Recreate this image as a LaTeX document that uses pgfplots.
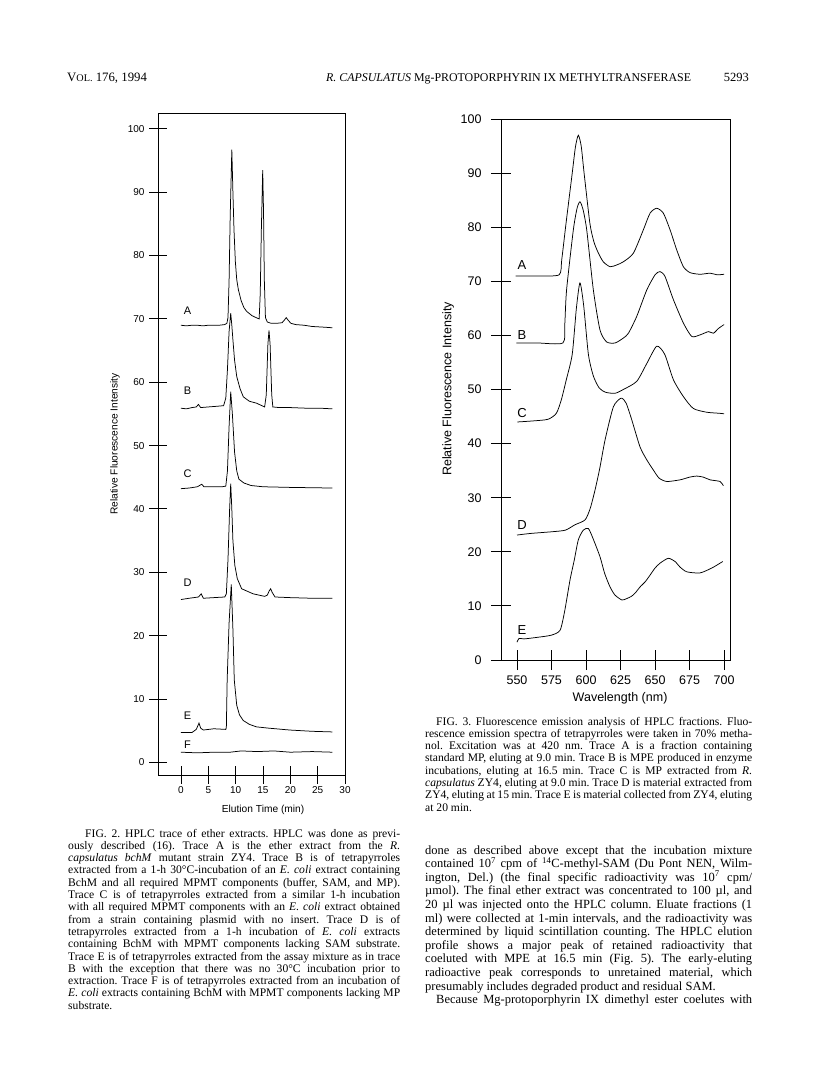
\documentclass[border=0pt]{standalone}
\usepackage{fontspec}
\setmainfont{Liberation Serif}
\setsansfont{Liberation Sans}
\usepackage{pgfplots}
\pgfplotsset{compat=1.18}
\frenchspacing

% page text set line by line as in the scan
\newdimen\linew
\newcommand{\jl}[1]{\hbox to \linew{#1}}
\newcommand{\el}[1]{\hbox to \linew{#1\hfil}}
\newcommand{\block}[3]{\vtop{\linew=#1\relax\hsize=#1\relax\baselineskip=#2\relax\lineskiplimit=-50pt\relax\parindent=0pt #3}}

\pgfplotsset{
  scan/.style={
    scale only axis,
    tick pos=left,
    tick align=center,
    axis line style={line width=0.9pt},
    tick style={line width=0.9pt, black},
    /pgf/number format/assume math mode=true,
  },
  trace/.style={black, line width=0.75pt, mark=none},
}

\begin{document}
\begin{tikzpicture}
\fill[white] (0pt,0pt) rectangle (816pt,-1084pt);

% running head
\node[anchor=base west, inner sep=0] at (67pt,-81pt) {\fontsize{12.8}{15}\selectfont V{\fontsize{10.2}{12}\selectfont OL.} 176, 1994};
\node[anchor=base west, inner sep=0] at (326pt,-81pt) {\fontsize{11.9}{14}\selectfont \textit{R. CAPSULATUS} Mg-PROTOPORPHYRIN IX METHYLTRANSFERASE};
\node[anchor=base east, inner sep=0] at (749pt,-81pt) {\fontsize{12.5}{15}\selectfont 5293};

% ---------------- FIG. 2 ----------------
\begin{axis}[scan,
  at={(158pt,-775pt)}, anchor=south west,
  width=187pt, height=662pt,
  xmin=-4.2, xmax=30, ymin=-2, ymax=102.5,
  xtick={0,5,...,30}, ytick={0,10,...,100},
  major tick length=18pt,
  ticklabel style={font=\fontsize{10}{12}\selectfont\sffamily},
  yticklabel style={xshift=-1pt},
  xticklabel style={yshift=1pt},
  label style={font=\fontsize{10.2}{12}\selectfont\sffamily},
  xlabel={Elution Time (min)},
  ylabel={Relative Fluorescence Intensity},
  xlabel style={at={(axis description cs:0.562,-0.052)}, anchor=center},
  ylabel style={at={(axis description cs:-0.23,0.5)}, anchor=center},
]
% A
\addplot[trace] coordinates {(0,69.0) (1,68.9) (2,69.0) (3,69.0) (4,68.9) (5,69.0) (6,69.0) (7,69.0) (8,69.1) (8.4,69.3) (8.6,70.2) (8.8,76) (9.0,86) (9.3,96.7) (9.5,90) (9.7,84) (9.95,79) (10.2,76.2) (10.5,74.6) (11,72.9) (11.5,71.8) (12,71.2) (13,70.5) (14,70.1) (14.3,70.0) (14.5,74) (14.7,84) (14.95,93.5) (15.1,87) (15.25,76) (15.45,70.2) (15.8,69.5) (16.5,69.3) (17.5,69.3) (18.5,69.4) (18.9,69.8) (19.25,70.2) (19.6,69.8) (20.1,69.3) (21,69.1) (22.5,69.0) (24,68.8) (26,68.7) (27.7,68.6)};
% B
\addplot[trace] coordinates {(0,55.9) (1,55.8) (2,56.0) (2.8,56.1) (3.2,56.5) (3.6,56.0) (5,56.1) (6.5,56.2) (7.8,56.3) (8.2,57.5) (8.5,62) (8.8,68) (9.1,70.9) (9.3,69) (9.5,66.7) (9.8,63.5) (10.2,60.9) (10.8,59) (11.4,57.7) (12.5,57.0) (13.8,56.7) (15.3,56.1) (15.6,58) (15.9,66) (16.1,68.2) (16.3,66) (16.6,58) (16.8,56.1) (18,56.0) (20,56.0) (23,55.9) (25.5,55.9) (27.7,55.8)};
% C
\addplot[trace] coordinates {(0,43.2) (1.5,43.3) (3.0,43.5) (3.8,43.9) (4.2,43.5) (6,43.5) (7.5,43.5) (8.2,43.6) (8.5,46) (8.8,53) (9.1,58.5) (9.4,55) (9.8,49) (10.2,46) (10.6,44.7) (11.5,44.1) (12.8,43.7) (15,43.5) (20,43.4) (27.7,43.3)};
% D
\addplot[trace] coordinates {(0,25.7) (1.5,25.9) (3.2,26.1) (3.7,26.6) (4.1,25.9) (6,26.0) (8,26.1) (8.3,26.6) (8.6,32) (8.9,40) (9.1,44.0) (9.3,40) (9.5,35) (9.85,31.1) (10.3,29) (11.1,27.4) (13.2,26.6) (15.3,26.2) (15.8,26.4) (16.1,27.0) (16.4,27.4) (16.7,26.8) (17.2,26.1) (20,26.0) (24,25.9) (27.7,25.9)};
% E
\addplot[trace] coordinates {(0,4.7) (2,4.7) (2.8,5.2) (3.3,6.2) (3.6,5.4) (4.1,5.1) (6,5.3) (8.2,5.2) (8.3,5.5) (8.45,13) (8.8,22) (9.2,28.1) (9.5,21) (9.75,13) (10.2,9) (10.7,7.5) (11.4,6.6) (12.5,6.0) (13.8,5.6) (16,5.4) (19.9,5.1) (24,4.9) (27.7,4.8)};
% F
\addplot[trace] coordinates {(0,1.6) (3,1.5) (6,1.6) (9,1.6) (11,1.8) (14,1.7) (17,1.8) (20,1.6) (24,1.7) (27.7,1.6)};
\begin{scope}[font=\fontsize{11}{13}\selectfont\sffamily]
\node at (axis cs:1.2,71.3) {A};
\node at (axis cs:1.2,58.6) {B};
\node at (axis cs:1.2,45.6) {C};
\node at (axis cs:1.2,28.3) {D};
\node at (axis cs:1.2,7.4) {E};
\node at (axis cs:1.2,2.8) {F};
\end{scope}
\end{axis}

% ---------------- FIG. 3 ----------------
\begin{axis}[scan,
  at={(501pt,-660pt)}, anchor=south west,
  width=229pt, height=541pt,
  xmin=538.4, xmax=704.3, ymin=0, ymax=100,
  xtick={550,575,...,700}, ytick={0,10,...,100},
  major tick length=20pt,
  ticklabel style={font=\fontsize{12.5}{14}\selectfont\sffamily},
  yticklabel style={xshift=-6pt},
  xticklabel style={yshift=-2pt},
  label style={font=\fontsize{12.5}{14}\selectfont\sffamily},
  xlabel={Wavelength (nm)},
  ylabel={Relative Fluorescence Intensity},
  xlabel style={at={(axis description cs:0.52,-0.0702)}, anchor=center},
  ylabel style={at={(axis description cs:-0.231,0.501)}, anchor=center},
]
% A
\addplot[trace, smooth, tension=0.4] coordinates {(549,71.0) (565,71.0) (580.5,71.2) (582.4,74) (585.5,80.7) (590,90) (592.3,94.8) (594.4,97.0) (596.5,95) (598.6,90) (602.8,80.7) (605.7,77.3) (608.8,75.3) (612.5,73.6) (617.4,72.7) (622,73.0) (627,73.6) (634.3,75.2) (641.5,79.5) (646.4,82.6) (651.2,83.5) (656,82.6) (660.9,79.5) (665.7,75.8) (670.5,72.7) (675.4,71.6) (682.6,71.3) (689.9,71.5) (695,71.2) (700,71.3)};
% B
\addplot[trace, smooth, tension=0.4] coordinates {(549.5,58.6) (565,58.6) (583.2,58.6) (584.6,62) (585.9,68.4) (590.8,79.5) (593.5,83.5) (595.6,84.7) (597.8,83.3) (600.5,79.5) (605.3,68.4) (610.1,61.0) (614.9,58.8) (621,58.6) (627,59.5) (630.7,60.4) (636.7,63.5) (644,68.4) (650,71.2) (653.6,71.8) (657.2,70.9) (663.3,66.6) (670.5,62.3) (676.6,59.8) (682.6,60.1) (688.7,60.7) (692.3,60.4) (696,61.3) (700,62.0)};
% C
\addplot[trace, smooth, tension=0.4] coordinates {(550.3,44.0) (562,44.2) (572.5,44.5) (578.5,45.6) (582.1,48.1) (585.7,51.8) (590,56.5) (593,65) (595.6,69.7) (598.3,65.5) (601.7,56.5) (605.3,52.5) (609.5,50.3) (614,49.5) (621,49.3) (627,50.0) (636.7,51.5) (644,54.8) (651.2,58.0) (657,56.5) (663.3,51.8) (670.5,48.7) (677.7,46.5) (687.4,45.8) (697,45.6) (700,45.5)};
% D
\addplot[trace, smooth, tension=0.4] coordinates {(550,23.1) (560,23.4) (575,23.7) (585,24.0) (592,25.0) (599.3,25.9) (603,28) (606.5,31.4) (610,35.5) (613.8,40.7) (619.8,46.8) (625.4,48.4) (629,47.5) (633,44.5) (639.1,39.4) (644,37) (648.8,35.1) (653,33.6) (658.5,33.0) (668.1,33.3) (675,33.8) (680.2,34.0) (685,33.8) (689.9,33.3) (697.1,33.0) (699.5,32.2)};
% E
\addplot[trace, smooth, tension=0.4] coordinates {(550,3.3) (551.5,4.0) (555,3.9) (565,4.2) (575,4.6) (581.2,5.5) (584.5,9) (588.4,14.8) (591.5,18.5) (594.4,22.2) (598,24.0) (601.7,24.3) (605,22.5) (610.1,19.1) (613.5,16) (617.4,13.5) (621,12.0) (625.9,11.1) (629,11.3) (633.1,11.8) (636,12.5) (639.1,13.5) (643,14.5) (646.4,15.7) (650,17.0) (653.6,17.9) (659.6,18.8) (664.5,18.2) (668,17.2) (673,16.3) (682.6,16.1) (691.1,17.0) (697.1,17.9) (699,18.2)};
\begin{scope}[font=\fontsize{13}{15}\selectfont\sffamily]
\node at (axis cs:553.6,73.0) {A};
\node at (axis cs:553.6,60.1) {B};
\node at (axis cs:553.6,45.6) {C};
\node at (axis cs:553.6,25.0) {D};
\node at (axis cs:553.6,5.5) {E};
\end{scope}
\end{axis}

% ---------------- captions and text ----------------
\node[anchor=base west, inner sep=0] at (68pt,-837pt) {\fontsize{11.6}{12.3}\selectfont\block{332pt}{12.3pt}{%
\jl{\kern17pt FIG. 2. HPLC trace of ether extracts. HPLC was done as previ-}
\jl{ously described (16). Trace A is the ether extract from the \textit{R.}}
\jl{\textit{capsulatus bchM} mutant strain ZY4. Trace B is of tetrapyrroles}
\jl{extracted from a 1-h 30°C-incubation of an \textit{E. coli} extract containing}
\jl{BchM and all required MPMT components (buffer, SAM, and MP).}
\jl{Trace C is of tetrapyrroles extracted from a similar 1-h incubation}
\jl{with all required MPMT components with an \textit{E. coli} extract obtained}
\jl{from a strain containing plasmid with no insert. Trace D is of}
\jl{tetrapyrroles extracted from a 1-h incubation of \textit{E. coli} extracts}
\jl{containing BchM with MPMT components lacking SAM substrate.}
\jl{Trace E is of tetrapyrroles extracted from the assay mixture as in trace}
\jl{B with the exception that there was no 30°C incubation prior to}
\jl{extraction. Trace F is of tetrapyrroles extracted from an incubation of}
\jl{\textit{E. coli} extracts containing BchM with MPMT components lacking MP}
\el{substrate.}}};

\node[anchor=base west, inner sep=0] at (425pt,-725pt) {\fontsize{11.6}{12.3}\selectfont\block{327pt}{12.3pt}{%
\jl{\kern11pt FIG. 3. Fluorescence emission analysis of HPLC fractions. Fluo-}
\jl{rescence emission spectra of tetrapyrroles were taken in 70\% metha-}
\jl{nol. Excitation was at 420 nm. Trace A is a fraction containing}
\jl{standard MP, eluting at 9.0 min. Trace B is MPE produced in enzyme}
\jl{incubations, eluting at 16.5 min. Trace C is MP extracted from \textit{R.}}
\jl{\textit{capsulatus} ZY4, eluting at 9.0 min. Trace D is material extracted from}
\jl{ZY4, eluting at 15 min. Trace E is material collected from ZY4, eluting}
\el{at 20 min.}}};

\node[anchor=base west, inner sep=0] at (425pt,-854pt) {\fontsize{12.5}{13.6}\selectfont\block{327pt}{13.6pt}{%
\jl{done as described above except that the incubation mixture}
\jl{contained 10\textsuperscript{7} cpm of \textsuperscript{14}C-methyl-SAM (Du Pont NEN, Wilm-}
\jl{ington, Del.) (the final specific radioactivity was 10\textsuperscript{7} cpm/}
\jl{µmol). The final ether extract was concentrated to 100 µl, and}
\jl{20 µl was injected onto the HPLC column. Eluate fractions (1}
\jl{ml) were collected at 1-min intervals, and the radioactivity was}
\jl{determined by liquid scintillation counting. The HPLC elution}
\jl{profile shows a major peak of retained radioactivity that}
\jl{coeluted with MPE at 16.5 min (Fig. 5). The early-eluting}
\jl{radioactive peak corresponds to unretained material, which}
\el{presumably includes degraded product and residual SAM.}
\jl{\kern11pt Because Mg-protoporphyrin IX dimethyl ester coelutes with}}};
\end{tikzpicture}
\end{document}
